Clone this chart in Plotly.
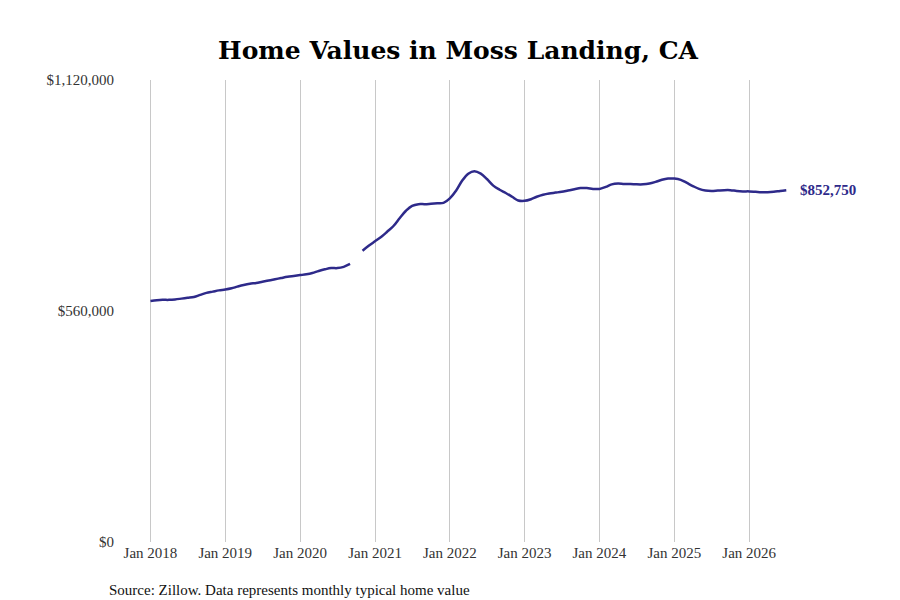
import plotly.graph_objects as go
import pandas as pd

dates = pd.date_range("2018-01-01", "2026-07-01", freq="MS")
values = [
 584000,586000,587000,587000,588000,590000,592000,594000,599000,604000,607000,610000,
 612000,615000,619000,623000,626000,628000,631000,634000,637000,640000,643000,645000,
 647000,649000,652000,657000,661000,664000,664000,667000,674000,None,706000,718000,
 729000,740000,752000,766000,785000,803000,815000,819000,819000,820000,821000,822000,
 833000,852000,875000,893000,899000,893000,880000,864000,854000,846000,837000,828000,
 827000,831000,837000,842000,845000,847000,849000,852000,855000,858000,858000,856000,
 856000,861000,867000,869000,868000,868000,867000,867000,869000,873000,878000,881000,
 881000,878000,871000,863000,856000,852000,851000,852000,853000,853000,851000,850000,
 850000,849000,848000,848000,849000,851000,852750]
tick_vals = [0, 560000, 1120000]
tick_text = ["$0", "$560,000", "$1,120,000"]
color = "#2e2a8a"

fig = go.Figure(go.Scatter(x=dates, y=values, mode="lines",
                           line=dict(color=color, width=2.5, shape="spline"),
                           connectgaps=False, hoverinfo="skip"))
fig.add_annotation(x=dates[-1], y=values[-1], text="<b>$852,750</b>", showarrow=False,
                   xanchor="left", xshift=12, font=dict(color=color, size=15, family="Liberation Serif"))
fig.add_annotation(xref="paper", yref="paper", x=-0.024, y=-0.104, xanchor="left", yanchor="middle",
                   text="Source: Zillow. Data represents monthly typical home value", showarrow=False,
                   font=dict(size=15, color="#111", family="Liberation Serif"))
fig.update_layout(
    width=900, height=600, plot_bgcolor="white", paper_bgcolor="white",
    margin=dict(l=115, r=100, t=72, b=66, autoexpand=False),
    title=dict(text="<b>Home Values in Moss Landing, CA</b>", x=0.5, xanchor="center", y=0.93,
               yanchor="middle", font=dict(size=25, family="DejaVu Serif", color="black")),
    font=dict(family="Liberation Serif", size=15, color="#333"),
    showlegend=False,
    xaxis=dict(range=["2017-08-20", "2026-10-15"], showgrid=True, gridcolor="#c8c8c8",
               tickvals=pd.date_range("2018-01-01", "2026-01-01", freq="YS"),
               ticktext=[f"Jan {y}" for y in range(2018, 2027)], ticks="", zeroline=False,
               showline=False, automargin=False),
    yaxis=dict(range=[0, 1120000], tickvals=tick_vals, ticktext=tick_text, showgrid=False,
               zeroline=False, ticks="", ticklabelstandoff=8, automargin=False),
)
fig.write_html("out.html")
